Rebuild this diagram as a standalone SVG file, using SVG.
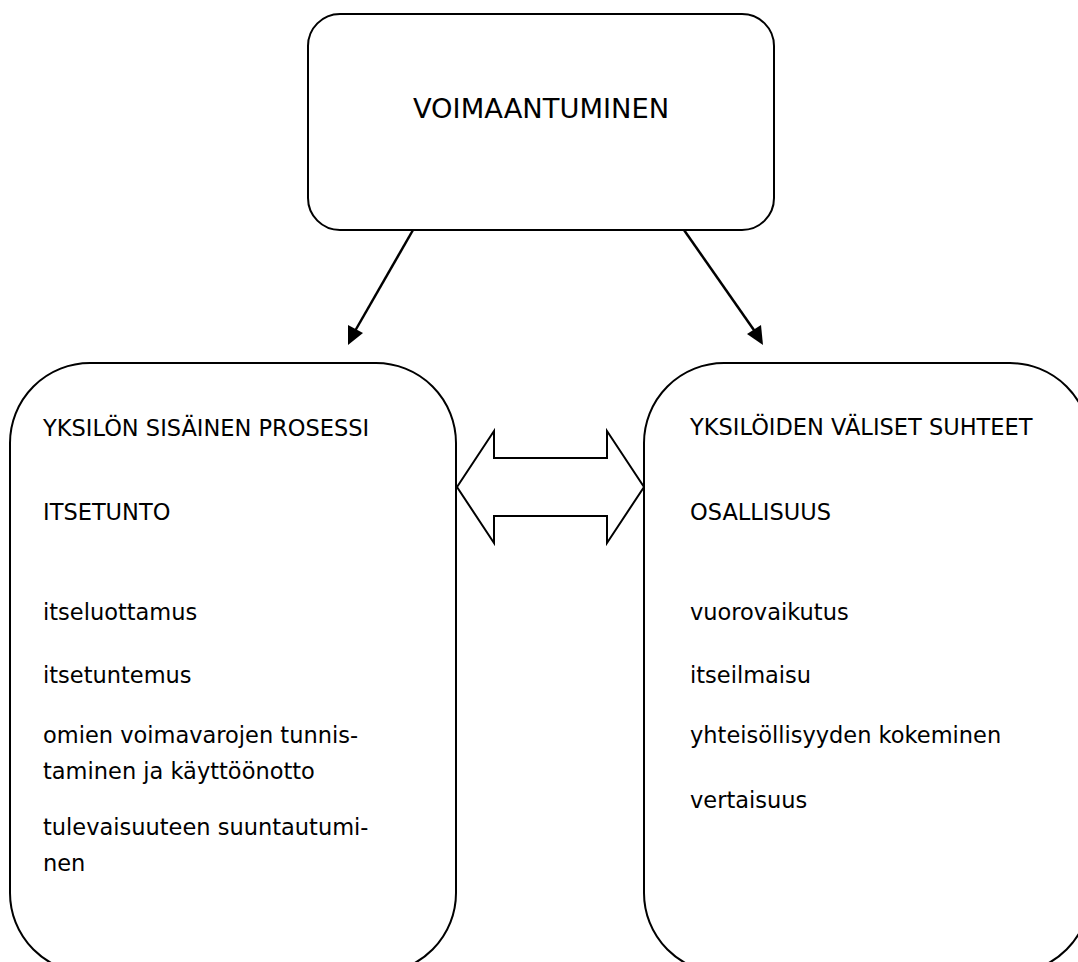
<svg xmlns="http://www.w3.org/2000/svg" width="1078" height="962" viewBox="0 0 1078 962">
<style>
.box{fill:#fff;stroke:#000;stroke-width:2}
.t{font-family:"DejaVu Sans",sans-serif;font-size:22.5px;fill:#000}
.title{font-family:"DejaVu Sans",sans-serif;font-size:27.3px;fill:#000}
.conn{stroke:#000;stroke-width:2.5;fill:none}
.head{fill:#000}
</style>
<rect width="1078" height="962" fill="#fff"/>
<g id="top">
<rect class="box" x="308" y="14" width="466" height="216" rx="32" ry="32"/>
<text class="title" x="541" y="118" text-anchor="middle">VOIMAANTUMINEN</text>
</g>
<g id="left">
<rect class="box" x="10" y="363" width="446" height="610" rx="80" ry="80"/>
<text class="t" x="43" y="436">YKSILÖN SISÄINEN PROSESSI</text>
<text class="t" x="43" y="520">ITSETUNTO</text>
<text class="t" x="43" y="620">itseluottamus</text>
<text class="t" x="43" y="683">itsetuntemus</text>
<text class="t" x="43" y="743">omien voimavarojen tunnis-</text>
<text class="t" x="43" y="779">taminen ja käyttöönotto</text>
<text class="t" x="43" y="835">tulevaisuuteen suuntautumi-</text>
<text class="t" x="43" y="871">nen</text>
</g>
<g id="right">
<rect class="box" x="644" y="363" width="446" height="610" rx="80" ry="80"/>
<text class="t" x="690" y="435">YKSILÖIDEN VÄLISET SUHTEET</text>
<text class="t" x="690" y="520">OSALLISUUS</text>
<text class="t" x="690" y="620">vuorovaikutus</text>
<text class="t" x="690" y="683">itseilmaisu</text>
<text class="t" x="690" y="743">yhteisöllisyyden kokeminen</text>
<text class="t" x="690" y="808">vertaisuus</text>
</g>
<g id="connectors">
<line x1="413" y1="230" x2="355" y2="331" class="conn"/>
<polygon class="head" points="348,345 348,325 363,333"/>
<line x1="684" y1="230" x2="756" y2="333" class="conn"/>
<polygon class="head" points="763,345 747,334 761,325"/>
<polygon id="dbl" points="457,487 494,431 494,458 607,458 607,431 644,487 607,543 607,516 494,516 494,543" fill="#fff" stroke="#000" stroke-width="2" stroke-linejoin="miter"/>
</g>
</svg>
